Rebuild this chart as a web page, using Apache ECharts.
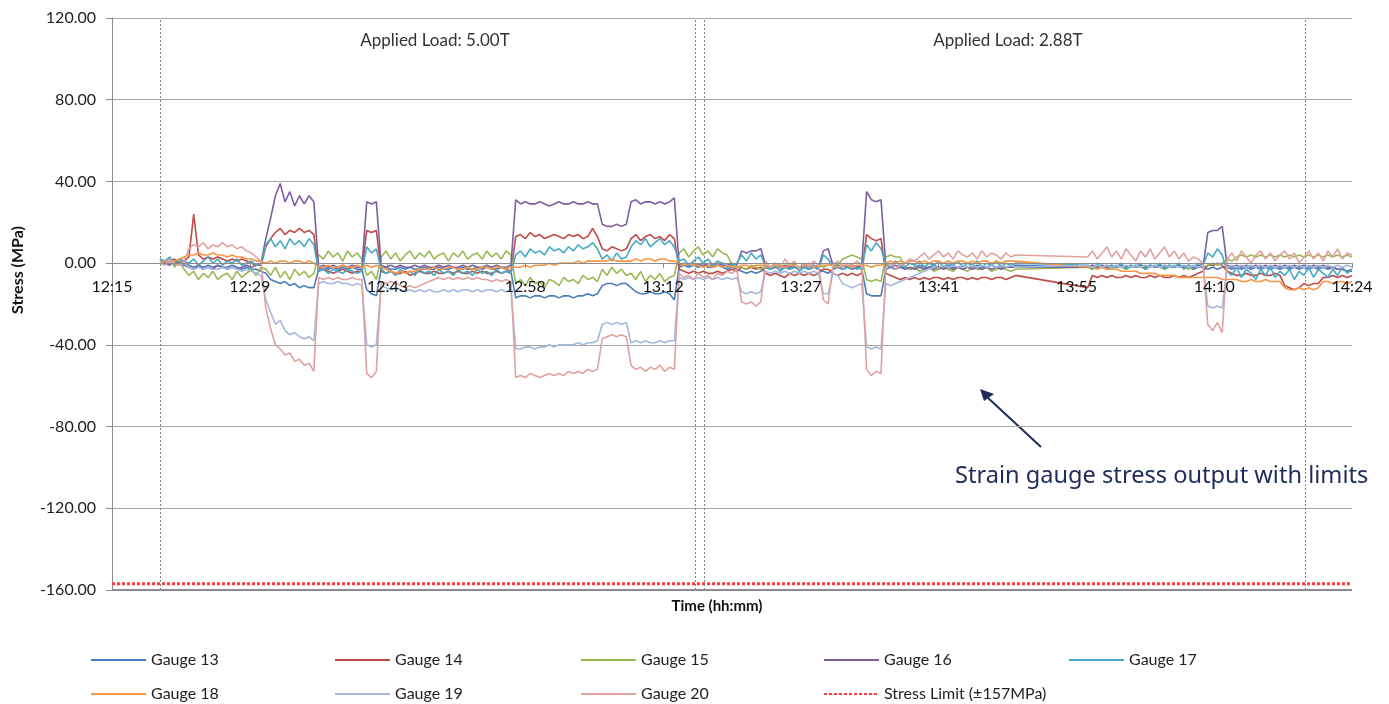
<!DOCTYPE html>
<html><head><meta charset="utf-8">
<script src="https://cdn.jsdelivr.net/npm/echarts@6/dist/echarts.min.js"></script>
<style>html,body{margin:0;padding:0;background:#fff}#c{width:1389px;height:704px}</style>
</head><body><div id="c"></div>
<script>
// time in minutes after 12:15
const timeMin = [5,5.5,6,6.5,7,7.5,8,8.5,9,9.5,10,10.5,11,11.5,12,12.5,13,13.5,14,14.5,15,15.5,16,16.5,17,17.5,18,18.5,19,19.5,20,20.5,21,21.5,22,22.5,23,23.5,24,24.5,25,25.5,26,26.5,27,27.5,28,28.5,29,29.5,30,30.5,31,31.5,32,32.5,33,33.5,34,34.5,35,35.5,36,36.5,37,37.5,38,38.5,39,39.5,40,40.5,41,41.5,42,42.5,43,43.5,44,44.5,45,45.5,46,46.5,47,47.5,48,48.5,49,49.5,50,50.5,51,51.5,52,52.5,53,53.5,54,54.5,55,55.5,56,56.5,57,57.5,58,58.5,59,59.5,60,60.5,61,61.5,62,62.5,63,63.5,64,64.5,65,65.5,66,66.5,67,67.5,68,68.5,69,69.5,70,70.5,71,71.5,72,72.5,73,73.5,74,74.5,75,75.5,76,76.5,77,77.5,78,78.5,79,79.5,80,80.5,81,81.5,82,82.5,83,83.5,84,84.5,85,85.5,86,86.5,87,87.5,88,88.5,89,89.5,90,90.5,91,91.5,92,92.5,93,93.5,94,
101.5,102,102.5,103,103.5,104,104.5,105,105.5,106,106.5,107,107.5,108,108.5,109,109.5,110,110.5,111,111.5,112,112.5,113,113.5,114,114.5,115,115.5,116,116.5,117,117.5,118,118.5,119,119.5,120,120.5,121,121.5,122,122.5,123,123.5,124,124.5,125,125.5,126,126.5,127,127.5,128,128.5,129];

const gauge13 = [1,0,2,-1,1,0,
-1,-2,-1,-2,-1,-2,-1,-2,-2,-1,-2,-3,-2,-3,-3,-4,
-5,-8,-9,-10,-9,-11,-10,-12,-11,-12,-12,
-3,-2,-3,-2,-3,-2,-3,-2,-3,-3,
-13,-15,-16,
-3,-2,-3,-3,-2,-3,-2,-3,-3,-2,-3,-3,-2,-3,-3,-2,-3,-2,-3,-3,-2,-3,-2,-3,-3,-2,-3,-4,
-17,-16,-16,-17,-16,-16,-17,-16,-16,-17,-16,-16,-17,-16,-16,-15,-16,-15,
-11,-10,-10,-11,-10,-10,
-12,-14,-15,-15,-14,-15,-15,-14,-15,-18,
-2,-1,-2,-1,-2,-1,-2,-2,-1,-2,-3,-2,-3,
-4,-5,-4,-5,-4,
-2,-3,-2,-3,-2,-3,-2,-3,-2,-3,-2,-3,
-4,-5,
-3,-2,-3,-2,-3,-2,-3,
-15,-16,-16,-16,
-3,-2,-3,-2,-2,-3,-2,-1,-2,-2,-1,-2,-2,-1,-2,-2,-1,-2,-2,-1,-2,-2,-1,-2,-1,-2,-2,-1,
-2,-1,-2,-2,-1,-2,-2,-1,-2,-2,-1,-2,-2,-1,-2,-2,-1,-2,-2,-1,-2,-2,-3,-2,-2,
-3,-2,-3,-2,
-2,-3,-2,-3,-2,-3,-2,-3,-2,-3,-2,-3,-2,-3,-2,-3,-2,-3,-2,-3,-2,-3,-2,-3,-3,-4,-3];

const gauge14 = [1,0,1,2,0,1,
3,24,4,2,3,2,3,2,1,2,1,2,1,0,-1,-1,
8,12,15,17,14,16,15,17,15,16,14,
-4,-3,-4,-5,-4,-3,-4,-5,-4,-4,
16,15,16,
-4,-5,-4,-5,-5,-4,-6,-5,-4,-5,-5,-4,-5,-5,-4,-5,-4,-5,-5,-4,-5,-4,-5,-5,-4,-5,-4,-5,
13,14,12,15,13,14,12,13,14,13,12,14,13,14,12,13,17,13,
7,6,8,7,6,7,
12,14,11,13,14,12,13,11,14,12,
-3,-4,-5,-4,-5,-4,-5,-5,-4,-5,-4,-3,-4,
-2,-3,-2,-3,-2,
-5,-6,-5,-6,-7,-5,-6,-5,-6,-5,-6,-5,
-3,-3,
-5,-6,-5,-6,-5,-6,-5,
14,12,11,12,
-5,-6,-7,-8,-7,-8,-7,-8,-7,-8,-7,-7,-8,-7,-8,-7,-7,-8,-7,-8,-7,-7,-8,-7,-7,-8,-7,-6,
-12,-6,-7,-6,-7,-6,-7,-7,-6,-7,-6,-7,-7,-6,-7,-6,-7,-7,-6,-7,-6,-7,-6,-5,-4,
-1,-1,0,-1,
-4,-5,-6,-6,-5,-6,-6,-5,-6,-6,-5,-6,-11,-12,-13,-12,-10,-11,-10,-10,-7,-7,-6,-7,-6,-7,-6];

const gauge15 = [2,-1,3,-2,1,-3,
-6,-4,-8,-5,-7,-4,-8,-6,-5,-8,-4,-7,-5,-3,-6,-2,
-3,-6,-2,-7,-4,-8,-3,-6,-4,-7,-5,
4,2,6,3,5,1,6,3,5,2,
-6,-4,-8,
3,6,2,5,1,4,6,2,5,3,6,2,4,5,1,5,3,6,2,4,5,2,6,3,5,2,6,4,
-10,-8,-11,-7,-10,-9,-12,-8,-9,-11,-7,-9,-8,-10,-6,-8,-7,-9,
-3,-6,-2,-5,-3,-6,
-5,-8,-4,-9,-6,-8,-5,-9,-7,-6,
5,7,3,6,8,4,6,3,7,5,4,-1,-2,
-2,-3,-1,-2,-3,
-1,-2,0,-1,-2,0,-1,-2,-1,0,-2,-1,
-2,-1,
0,-1,2,3,4,3,2,
-8,-9,-8,-9,
3,4,3,3,-2,-3,-2,-4,-3,-2,-4,-3,-2,-3,-4,-2,-3,-4,-2,-3,-3,-2,-4,-3,-2,-3,-4,-3,
-2,-3,-2,-1,-2,-3,-1,-2,-3,-2,-1,-2,-3,-2,-1,-2,-3,-2,-1,-2,-2,-3,-2,-1,-2,
-1,0,-1,0,
2,1,3,4,3,4,3,4,3,4,3,4,3,4,3,4,3,4,3,4,3,4,3,4,3,4,3];

const gauge16 = [1,0,-1,1,0,-1,
-2,-3,-1,-3,-2,-3,-1,-2,-3,-2,-3,-2,-1,-2,-1,0,
12,22,33,39,30,35,28,33,29,33,30,
-2,-1,-2,-1,-2,-1,-2,-1,-2,-2,
30,29,30,
-1,-2,-1,-2,-1,-2,-2,-1,-2,-1,-2,-2,-1,-2,-1,-2,-2,-1,-2,-1,-2,-2,-1,-2,-1,-2,-2,-1,
31,29,30,29,29,30,29,28,29,30,29,29,30,29,29,30,29,29,
19,18,18,19,18,19,
30,31,29,30,30,29,30,29,30,32,
-1,0,-1,0,-1,0,-1,-1,0,-1,-1,0,-1,
6,5,6,6,7,
-1,-2,-1,-2,-1,-2,-1,-2,-1,-2,-1,-2,
6,7,
-1,-2,-1,-2,-1,-2,-1,
35,31,30,31,
-1,-2,-1,-2,-3,-2,-3,-2,-3,-2,-3,-2,-3,-2,-3,-2,-3,-2,-3,-2,-3,-2,-3,-2,-3,-2,-2,-2,
-2,-1,-2,-1,-2,-1,-2,-1,-2,-1,-2,-1,-2,-1,-2,-1,-2,-1,-2,-1,-2,-1,-2,-1,-2,
15,16,16,18,
-1,-2,-1,-2,-1,-2,-1,-2,-1,-2,-1,-2,-1,-2,-1,-2,-1,-2,-1,-2,-1,-2,-2,-3,-3,-4,-4];

const gauge17 = [2,1,3,0,2,1,
0,2,-1,1,3,0,2,-1,1,0,2,-1,0,1,-1,0,
9,12,8,11,7,12,9,11,8,12,9,
-4,-3,-5,-3,-4,-5,-3,-4,-5,-4,
8,5,7,
-3,-5,-4,-6,-3,-5,-4,-6,-3,-5,-4,-6,-3,-5,-4,-6,-3,-5,-4,-6,-3,-5,-4,-6,-3,-5,-4,-5,
4,6,3,7,5,6,4,8,6,7,5,8,6,9,7,8,10,7,
2,4,1,5,2,3,
8,11,9,12,8,10,12,9,11,8,
1,2,-1,1,3,0,2,-1,1,0,-2,-1,0,
4,1,5,2,4,
-2,-3,-1,-4,-2,-3,-1,-4,-2,-3,-1,-3,
4,2,
-2,-1,-3,-2,-1,-3,-2,
9,6,10,7,
0,-2,1,-1,-2,0,-1,1,-2,0,-1,1,-2,0,-1,1,-2,0,-1,1,-2,0,-1,1,-2,0,-1,0,
-1,-3,0,-2,-3,-1,-2,0,-3,-1,-2,0,-3,-1,-2,0,-3,-1,-2,0,-3,-1,-2,0,-1,
5,3,7,4,
-4,-6,-2,-7,-3,-5,-8,-3,-6,-2,-7,-4,-6,-3,-8,-4,-6,-2,-7,-3,-5,-7,-3,-6,-2,-5,-3];

const gauge18 = [0,1,0,1,2,3,
4,4,5,4,4,5,4,4,3,4,3,3,2,2,1,1,
0,1,0,1,1,0,1,1,0,1,0,
-2,-2,-1,-2,-2,-1,-2,-2,-1,-2,
-1,-2,-1,
-2,-3,-4,-5,-4,-5,-4,-4,-3,-3,-3,-2,-3,-3,-2,-2,-3,-3,-2,-3,-3,-2,-2,-3,-2,-2,-3,-2,
-2,-2,-1,-2,-1,-1,-1,0,-1,0,0,0,0,1,0,1,1,1,
1,1,2,1,1,1,
1,2,1,2,2,1,2,2,1,1,
0,-1,0,-1,-1,-2,-1,-2,-1,-2,-1,-2,-2,
-1,-1,-2,-1,-1,
-1,-2,-1,-1,-2,-1,-1,-2,-1,-1,-2,-1,
-1,-1,
-1,-2,-1,-1,-2,-1,-1,
-1,-2,-1,-1,
0,1,0,1,0,1,1,0,1,0,1,1,0,1,0,1,1,0,1,0,1,1,0,1,0,1,1,1,
-2,-2,-3,-2,-3,-3,-3,-4,-4,-4,-4,-5,-5,-5,-5,-6,-6,-6,-6,-7,-7,-7,-7,-7,-7,
-7,-7,-7,-8,
-8,-8,-8,-9,-9,-8,-9,-9,-8,-9,-9,-9,-12,-13,-13,-12,-13,-12,-13,-12,-9,-9,-10,-9,-9,-10,-9];

const gauge19 = [0,-1,1,0,-1,0,
-2,-3,-2,-3,-2,-3,-3,-2,-3,-2,-3,-4,-3,-4,-5,-6,
-18,-24,-30,-28,-33,-35,-34,-36,-37,-36,-38,
-10,-9,-10,-10,-9,-10,-10,-11,-10,-11,
-40,-41,-40,
-11,-12,-13,-12,-13,-14,-13,-14,-13,-14,-13,-14,-14,-13,-14,-13,-14,-13,-13,-14,-13,-14,-13,-13,-14,-13,-14,-13,
-42,-42,-41,-41,-42,-41,-41,-40,-41,-40,-40,-40,-40,-39,-40,-39,-39,-38,
-30,-29,-30,-29,-30,-29,
-39,-38,-39,-38,-39,-39,-38,-39,-38,-38,
-7,-8,-7,-8,-7,-8,-7,-8,-7,-8,-7,-8,-7,
-14,-15,-14,-15,-14,
-4,-5,-4,-5,-4,-5,-4,-5,-4,-5,-4,-5,
-15,-15,
-5,-6,-10,-11,-12,-11,-10,
-41,-42,-41,-42,
-10,-11,-10,-9,-8,-7,-6,-5,-4,-3,-2,-2,-1,-2,-1,-2,-1,-2,-1,-2,-1,-2,-1,-2,-1,-2,-1,-2,
-1,-2,-1,-2,-1,-2,-1,-2,-1,-2,-1,-2,-1,-2,-1,-2,-1,-2,-1,-2,-1,-2,-1,-2,-1,
-21,-22,-21,-22,
-2,-1,-2,-1,-2,-1,-2,-1,-2,-1,-2,-1,-2,-1,-2,-1,-2,-1,-2,-1,-2,-1,-2,-1,-2,-1,-2];

const gauge20 = [1,-1,2,0,-1,1,
7,9,8,10,7,9,8,10,8,9,7,8,6,5,3,1,
-22,-32,-40,-42,-45,-44,-48,-47,-50,-49,-53,
-7,-8,-7,-8,-7,-8,-8,-7,-8,-8,
-54,-56,-53,
-9,-10,-9,-10,-11,-12,-11,-12,-11,-10,-9,-8,-7,-8,-7,-8,-7,-8,-7,-8,-7,-8,-8,-9,-8,-9,-8,-9,
-56,-55,-56,-54,-55,-56,-55,-54,-55,-54,-55,-53,-54,-53,-54,-52,-53,-52,
-37,-36,-35,-36,-35,-36,
-50,-52,-51,-53,-51,-52,-50,-53,-51,-52,
-5,-7,-6,-8,-5,-7,-6,-8,-5,-6,-4,-5,-3,
-19,-20,-19,-21,-19,
1,-2,0,-3,2,-1,1,-3,0,-2,1,-1,
-18,-20,
-1,1,-2,0,-1,1,-1,
-52,-55,-53,-54,
-2,0,-3,-1,0,2,1,3,5,2,4,6,3,5,2,6,4,3,5,2,6,3,5,4,2,5,3,4,
3,6,2,5,8,3,6,2,7,4,1,6,3,7,2,5,8,3,6,2,5,1,3,2,0,
-30,-33,-29,-34,
2,5,1,6,3,0,4,6,2,5,1,4,6,2,5,0,3,6,2,5,1,6,3,7,2,5,4];

const stressLimit = -157;
const yTickValues = [-160, -120, -80, -40, 0, 40, 80, 120];
const xTickLabels = ['12:15','12:29','12:43','12:58','13:12','13:27','13:41','13:55','14:10','14:24'];
const markerTimes = [5, 60.65, 61.6, 124.1];
const loadLabels = ['Applied Load: 5.00T', 'Applied Load: 2.88T'];
const loadLabelTimes = [33.6, 93.2];
const loadLabelValue = 109;

const gaugeNames = ['Gauge 13','Gauge 14','Gauge 15','Gauge 16','Gauge 17','Gauge 18','Gauge 19','Gauge 20'];
const gaugeValues = [gauge13, gauge14, gauge15, gauge16, gauge17, gauge18, gauge19, gauge20];
const gaugeColors = ['#4A7EBB','#BE4B48','#98B954','#7D5FA0','#46AAC5','#F79646','#A3B8DC','#E0A2A0'];
const limitName = 'Stress Limit (±157MPa)';

const SPAN = 129 * 60; // seconds 12:15 -> 14:24
const STEP = SPAN / 9;

gaugeValues.forEach((v, k) => {
  if (v.length !== timeMin.length) throw new Error(gaugeNames[k] + ' has ' + v.length + ' values, expected ' + timeMin.length);
});

const chart = echarts.init(document.getElementById('c'), null, {renderer: 'canvas'});
const font = 'Lato, "Open Sans", sans-serif';

const series = gaugeValues.map((vals, k) => ({
  name: gaugeNames[k],
  type: 'line',
  symbol: 'none',
  showSymbol: false,
  data: timeMin.map((t, i) => [t * 60, vals[i]]),
  lineStyle: {color: gaugeColors[k], width: 1.6},
  itemStyle: {color: gaugeColors[k]},
  z: 3 + k
}));

series.push({
  name: limitName,
  type: 'line',
  symbol: 'none',
  data: [[0, stressLimit], [SPAN, stressLimit]],
  lineStyle: {color: '#FF3B3B', width: 3, type: [3, 2]},
  itemStyle: {color: '#FF3B3B'},
  z: 2,
  markLine: {
    silent: true,
    symbol: ['none', 'none'],
    label: {show: false},
    lineStyle: {color: '#7f7f7f', type: [2, 2], width: 1},
    data: markerTimes.map(t => ({xAxis: t * 60})).concat([
      {yAxis: yTickValues[0], lineStyle: {color: '#8c8c8c', type: 'solid', width: 2}}
    ])
  },
  markPoint: {
    silent: true,
    symbol: 'rect',
    symbolSize: 1,
    itemStyle: {color: 'rgba(0,0,0,0)'},
    label: {show: true, position: 'inside', formatter: '{b}', color: '#333', fontSize: 17, fontFamily: font},
    data: loadLabelTimes.map((t, i) => ({name: loadLabels[i], coord: [t * 60, loadLabelValue]}))
  }
});

const legendOrder = gaugeNames.concat([limitName]);
const legendCols = [85, 329, 575, 818, 1063];
const legendRows = [647, 681];
const legends = legendOrder.map((n, i) => ({
  data: [n],
  left: legendCols[i % 5],
  top: legendRows[Math.floor(i / 5)],
  itemWidth: 55,
  itemHeight: 16,
  itemGap: 0,
  selectedMode: false,
  itemStyle: {opacity: 0},
  textStyle: {color: '#222', fontSize: 16, fontFamily: font}
}));

const xAxisOpt = {
  type: 'value',
  min: 0, max: SPAN, interval: STEP,
  offset: 0,
  z: 20,
  axisLine: {show: true, onZero: false, lineStyle: {color: '#8c8c8c', width: 1}},
  axisTick: {show: true, length: 5, lineStyle: {color: '#8c8c8c'}},
  splitLine: {show: false},
  axisLabel: {
    margin: 16, color: '#111', fontSize: 16, fontFamily: font,
    formatter: v => xTickLabels[Math.round(v / STEP)] || ''
  }
};

chart.setOption({
  animation: false,
  backgroundColor: '#fff',
  grid: {left: 112, right: 37, top: 18, bottom: 114, containLabel: false},
  legend: legends,
  xAxis: xAxisOpt,
  yAxis: {
    type: 'value',
    min: yTickValues[0], max: yTickValues[yTickValues.length - 1], interval: 40,
    axisLine: {show: true, onZero: false, lineStyle: {color: '#8c8c8c', width: 1}},
    axisTick: {show: true, length: 6, lineStyle: {color: '#8c8c8c'}},
    splitLine: {show: true, lineStyle: {color: '#a6a6a6', width: 1}},
    axisLabel: {margin: 16, color: '#222', fontSize: 16, fontFamily: font, formatter: v => v.toFixed(2)}
  },
  graphic: [
    {type: 'text', x: 18, y: 270, rotation: Math.PI / 2,
     style: {text: 'Stress (MPa)', fill: '#111', font: 'bold 16px ' + font, align: 'center', verticalAlign: 'middle'}},
    {type: 'text', x: 717, y: 606,
     style: {text: 'Time (hh:mm)', fill: '#111', font: 'bold 15px ' + font, align: 'center', verticalAlign: 'middle'}},
    {type: 'line', shape: {x1: 1041, y1: 447, x2: 987, y2: 397},
     style: {stroke: '#1F2B5B', lineWidth: 2}},
    {type: 'polygon', shape: {points: [[980, 389], [994, 394], [984, 401]]},
     style: {fill: '#1F2B5B'}},
    {type: 'text', x: 955, y: 476,
     style: {text: 'Strain gauge stress output with limits', fill: '#1F2B5B', font: '23.6px "Noto Sans", "Open Sans", sans-serif', align: 'left', verticalAlign: 'middle'}}
  ],
  series: series
});

// Place the time axis on the zero line (Excel "axis crosses at 0")
const yZero = chart.convertToPixel({yAxisIndex: 0}, 0);
const yMin = chart.convertToPixel({yAxisIndex: 0}, yTickValues[0]);
chart.setOption({xAxis: {offset: -(yMin - yZero)}});
</script>
</body></html>
